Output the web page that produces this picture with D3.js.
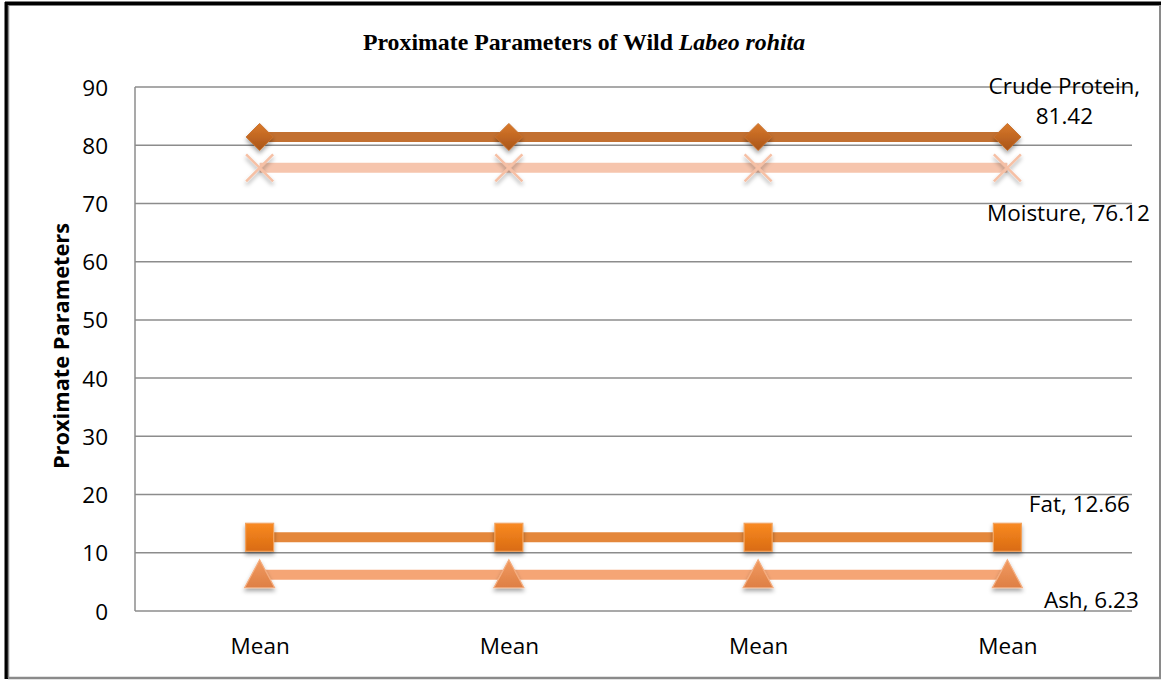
<!DOCTYPE html>
<html>
<head>
<meta charset="utf-8">
<script src="https://cdn.jsdelivr.net/npm/d3@7"></script>
<style>
  html, body { margin: 0; padding: 0; background: #fff; }
  svg { display: block; }
</style>
</head>
<body>
<svg id="chart" width="1161" height="680"></svg>
<script>
// Categories along the x axis
const categories = ["Mean", "Mean", "Mean", "Mean"];
// Series names and their values at each category
const seriesNames = ["Crude Protein", "Moisture", "Fat", "Ash"];
const crudeProtein = [81.42, 81.42, 81.42, 81.42];
const moisture = [76.12, 76.12, 76.12, 76.12];
const fat = [12.66, 12.66, 12.66, 12.66];
const ash = [6.23, 6.23, 6.23, 6.23];
// Y axis ticks
const yTicks = [0, 10, 20, 30, 40, 50, 60, 70, 80, 90];

const svg = d3.select("#chart");
const plot = { left: 135, right: 1132, top: 87, bottom: 611 };
const sansFont = "'Open Sans', 'DejaVu Sans', sans-serif";
const textSize = 22.5;

// Outer frame
svg.append("line").attr("x1", 6.5).attr("y1", 2).attr("x2", 6.5).attr("y2", 679)
  .attr("stroke", "#000").attr("stroke-width", 4);
svg.append("line").attr("x1", 5).attr("y1", 3.5).attr("x2", 1161).attr("y2", 3.5)
  .attr("stroke", "#000").attr("stroke-width", 4);
svg.append("line").attr("x1", 8.5).attr("y1", 5).attr("x2", 8.5).attr("y2", 678)
  .attr("stroke", "#8a8a8a").attr("stroke-width", 1.5);
svg.append("line").attr("x1", 1160).attr("y1", 5).attr("x2", 1160).attr("y2", 679)
  .attr("stroke", "#8a8a8a").attr("stroke-width", 2);
svg.append("line").attr("x1", 8).attr("y1", 678).attr("x2", 1161).attr("y2", 678)
  .attr("stroke", "#8a8a8a").attr("stroke-width", 2.5);

const defs = svg.append("defs");
const shadow = defs.append("filter").attr("id", "mshadow")
  .attr("x", "-50%").attr("y", "-50%").attr("width", "200%").attr("height", "200%");
shadow.append("feDropShadow").attr("dx", 0).attr("dy", 3).attr("stdDeviation", 2.2)
  .attr("flood-color", "#000").attr("flood-opacity", 0.35);

function vgrad(id, top, bottom) {
  const g = defs.append("linearGradient").attr("id", id)
    .attr("x1", 0).attr("y1", 0).attr("x2", 0).attr("y2", 1);
  g.append("stop").attr("offset", "0%").attr("stop-color", top);
  g.append("stop").attr("offset", "100%").attr("stop-color", bottom);
}
vgrad("gDiamond", "#D9792A", "#A9551A");
vgrad("gSquare", "#F98A22", "#D96B12");
vgrad("gTri", "#F19A60", "#DE7F45");

// Scales
const x = d3.scalePoint().domain(d3.range(categories.length))
  .range([plot.left, plot.right]).padding(0.5);
const y = d3.scaleLinear().domain([0, 90]).range([plot.bottom, plot.top]);

// Gridlines
svg.append("g").selectAll("line").data(yTicks).join("line")
  .attr("x1", plot.left).attr("x2", plot.right)
  .attr("y1", d => y(d)).attr("y2", d => y(d))
  .attr("stroke", "#8c8c8c").attr("stroke-width", 1.5);

// Y axis line
svg.append("line").attr("x1", plot.left).attr("x2", plot.left)
  .attr("y1", plot.top).attr("y2", plot.bottom)
  .attr("stroke", "#8c8c8c").attr("stroke-width", 1.5);

// Y axis
const yAxis = d3.axisLeft(y).tickValues(yTicks).tickSize(0).tickPadding(27);
const gy = svg.append("g").attr("transform", `translate(${plot.left},0)`).call(yAxis);
gy.select(".domain").remove();
gy.selectAll("text").attr("font-family", sansFont).attr("font-size", textSize)
  .attr("fill", "#000").attr("dy", "0.36em");

// X axis
const xAxis = d3.axisBottom(x).tickSize(0).tickPadding(27).tickFormat(i => categories[i]);
const gx = svg.append("g").attr("transform", `translate(0,${plot.bottom})`).call(xAxis);
gx.select(".domain").remove();
gx.selectAll("text").attr("font-family", sansFont).attr("font-size", textSize)
  .attr("fill", "#000").attr("dy", "0.71em");

// Title
const title = svg.append("text").attr("x", 584).attr("y", 50)
  .attr("text-anchor", "middle")
  .attr("font-family", "'Liberation Serif', 'Times New Roman', serif")
  .attr("font-size", 23.8).attr("font-weight", "bold").attr("fill", "#000");
title.append("tspan").text("Proximate Parameters of Wild ");
title.append("tspan").attr("font-style", "italic").text("Labeo rohita");

// Y axis title
svg.append("text")
  .attr("transform", "translate(69,346) rotate(-90)")
  .attr("text-anchor", "middle")
  .attr("font-family", sansFont).attr("font-size", 21.8).attr("font-weight", "bold")
  .attr("fill", "#000").text("Proximate Parameters");

// Series definitions
const series = [
  { name: seriesNames[1], values: moisture, line: "#F6C5AD", marker: "x" },
  { name: seriesNames[0], values: crudeProtein, line: "#C27031", marker: "diamond" },
  { name: seriesNames[3], values: ash, line: "#F5A575", marker: "triangle" },
  { name: seriesNames[2], values: fat, line: "#E4873B", marker: "square" }
];

const lineGen = d3.line().x((d, i) => x(i)).y(d => y(d));

series.forEach(s => {
  const g = svg.append("g");
  g.append("path").datum(s.values).attr("d", lineGen)
    .attr("fill", "none").attr("stroke", s.line).attr("stroke-width", 10);
  const m = g.selectAll("g.m").data(s.values).join("g")
    .attr("transform", (d, i) => `translate(${x(i)},${y(d)})`)
    .attr("filter", "url(#mshadow)");
  if (s.marker === "diamond") {
    m.append("path").attr("d", "M0,-13.5 L13.5,0 L0,13.5 L-13.5,0 Z")
      .attr("fill", "url(#gDiamond)").attr("stroke", "#C8702C").attr("stroke-width", 1);
  } else if (s.marker === "square") {
    m.append("rect").attr("x", -14).attr("y", -14).attr("width", 28).attr("height", 28)
      .attr("fill", "url(#gSquare)").attr("stroke", "#F2A35E").attr("stroke-width", 1.2);
  } else if (s.marker === "triangle") {
    m.append("path").attr("d", "M0,-15 L15,13 L-15,13 Z")
      .attr("fill", "url(#gTri)").attr("stroke", "#F5AE80").attr("stroke-width", 1.2);
  } else if (s.marker === "x") {
    m.append("path").attr("d", "M-13.5,-13.5 L13.5,13.5 M13.5,-13.5 L-13.5,13.5")
      .attr("stroke", "#F6C0A5").attr("stroke-width", 2.5).attr("fill", "none");
  }
});

// Data labels at the last point of each series
const last = categories.length - 1;
function label(lines, dx, dyFirst, s) {
  const t = svg.append("text")
    .attr("font-family", sansFont).attr("font-size", textSize)
    .attr("fill", "#000").attr("text-anchor", "middle");
  lines.forEach((ln, k) => {
    t.append("tspan").attr("x", x(last) + dx).attr("y", y(s.values[last]) + dyFirst + k * 30).text(ln);
  });
}
label([`${seriesNames[0]},`, `${crudeProtein[last]}`], 57, -43, series[1]);
label([`${seriesNames[1]}, ${moisture[last].toFixed(2)}`], 61, 53, series[0]);
label([`${seriesNames[2]}, ${fat[last].toFixed(2)}`], 72, -25, series[3]);
label([`${seriesNames[3]}, ${ash[last].toFixed(2)}`], 84, 33, series[2]);
</script>
</body>
</html>
